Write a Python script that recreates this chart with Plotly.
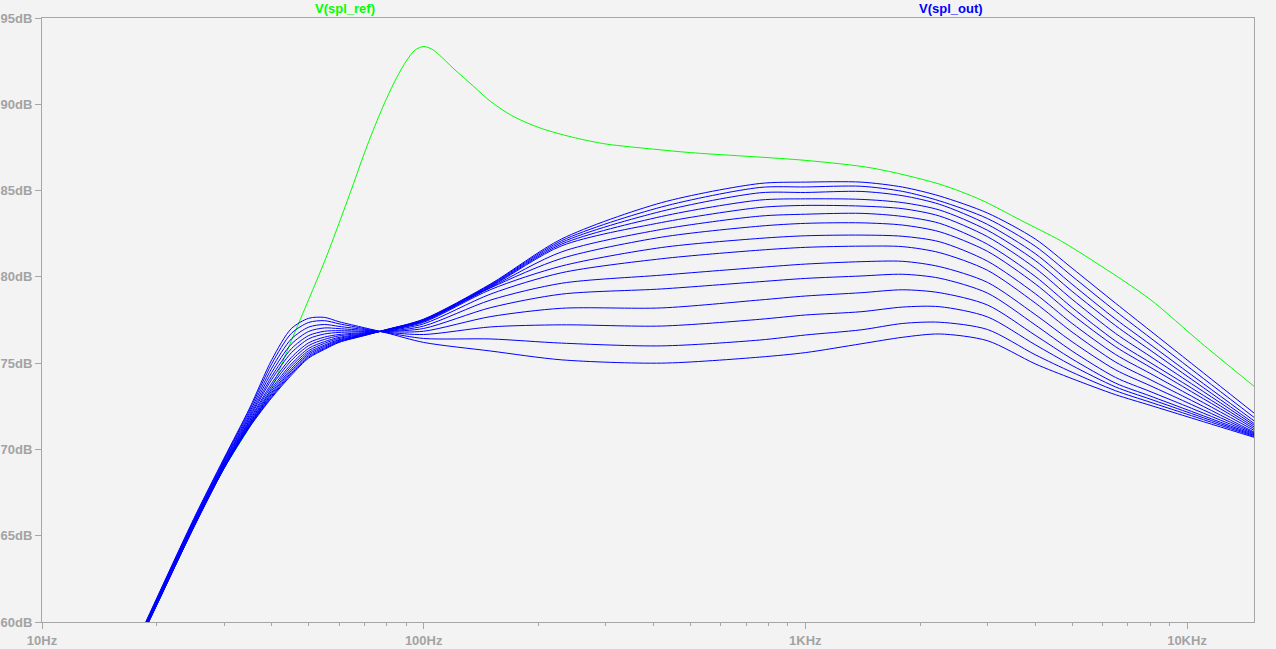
import plotly.graph_objects as go

# Frequencies (Hz) at which the V(spl_out) family was read
freq_out = [18, 20, 25, 30, 35, 40, 45, 50, 55, 60, 70, 80, 100, 150, 230, 420,
            760, 1000, 1400, 1800, 2250, 3000, 4000, 5000, 6500, 8000, 10000, 15000]

# V(spl_out) parameter-sweep curves (dB), top-at-midband first
out_01 = [58.9,61.0,65.5,68.9,71.3,73.0,74.3,75.3,75.8,76.2,76.6,76.95,77.55,79.6,82.2,84.3,85.41,85.49,85.49,85.2,84.68,83.7,82.2,80.5,78.47,76.89,75.19,72.1]
out_02 = [58.9,61.01,65.51,68.92,71.33,73.06,74.38,75.36,75.85,76.23,76.61,76.94,77.53,79.56,82.1,84.05,85.18,85.21,85.25,84.95,84.40,83.38,81.78,80.04,78.01,76.48,74.84,71.85]
out_03 = [58.9,61.02,65.53,68.94,71.37,73.13,74.46,75.44,75.91,76.27,76.63,76.94,77.51,79.52,82.0,83.8,84.87,84.89,84.95,84.7,84.20,83.04,81.35,79.57,77.55,76.09,74.51,71.65]
out_04 = [58.9,61.04,65.55,68.96,71.41,73.22,74.56,75.53,75.98,76.32,76.64,76.93,77.49,79.48,81.9,83.5,84.45,84.52,84.49,84.3,83.87,82.7,80.95,79.16,77.17,75.76,74.25,71.5]
out_05 = [58.95,61.05,65.57,68.98,71.45,73.3,74.67,75.62,76.05,76.36,76.66,76.92,77.47,79.44,81.8,83.15,84.02,84.14,84.1,83.95,83.52,82.33,80.51,78.7,76.72,75.4,73.98,71.4]
out_06 = [58.96,61.08,65.59,69.01,71.51,73.41,74.81,75.73,76.15,76.43,76.68,76.91,77.44,79.4,81.45,82.75,83.52,83.63,83.68,83.5,83.10,81.89,80.03,78.22,76.28,75.04,73.72,71.3]
out_07 = [58.97,61.1,65.62,69.05,71.57,73.53,74.95,75.86,76.25,76.49,76.71,76.9,77.42,79.37,81.07,82.3,82.94,83.10,83.13,83.0,82.61,81.48,79.6,77.82,75.95,74.77,73.5,71.2]
out_08 = [58.99,61.13,65.66,69.09,71.65,73.69,75.15,76.02,76.38,76.58,76.74,76.89,77.37,79.27,80.63,81.7,82.23,82.38,82.42,82.35,82.03,80.91,79.03,77.3,75.5,74.41,73.23,71.1]
out_09 = [59.01,61.15,65.69,69.13,71.72,73.84,75.33,76.18,76.51,76.66,76.77,76.87,77.28,79.01,80.24,81.05,81.55,81.71,81.78,81.75,81.40,80.38,78.49,76.8,75.06,74.05,72.97,71.0]
out_10 = [59.04,61.19,65.74,69.19,71.83,74.06,75.6,76.41,76.69,76.78,76.82,76.85,77.15,78.66,79.63,80.1,80.55,80.74,80.88,80.9,80.59,79.68,77.82,76.24,74.61,73.7,72.72,70.95]
out_11 = [59.07,61.23,65.78,69.24,71.92,74.24,75.83,76.6,76.85,76.88,76.85,76.84,77.01,78.22,79.0,79.3,79.72,79.91,80.05,80.15,79.92,79.06,77.22,75.7,74.17,73.36,72.49,70.9]
out_12 = [59.1,61.27,65.83,69.3,72.03,74.47,76.1,76.84,77.04,77.0,76.9,76.82,76.85,77.7,78.18,78.2,78.66,78.89,79.08,79.25,79.08,78.37,76.62,75.24,73.84,73.1,72.3,70.85]
out_13 = [59.13,61.31,65.89,69.37,72.16,74.71,76.4,77.09,77.24,77.13,76.95,76.79,76.66,77.1,77.22,77.15,77.54,77.79,77.98,78.25,78.27,77.68,76.07,74.86,73.62,72.92,72.17,70.8]
out_14 = [59.17,61.36,65.95,69.44,72.29,74.97,76.72,77.36,77.46,77.28,77.0,76.77,76.43,76.4,76.16,76.0,76.34,76.63,76.93,77.3,77.37,76.95,75.49,74.47,73.4,72.74,72.04,70.75]
out_15 = [59.2,61.4,66.0,69.5,72.4,75.2,77.0,77.6,77.65,77.4,77.05,76.75,76.2,75.7,75.19,75.0,75.35,75.61,76.12,76.5,76.69,76.3,74.96,74.1,73.17,72.56,71.9,70.7]

# V(spl_ref)
freq_ref = [18, 20, 25, 30, 35, 40, 45, 50, 55, 60, 65, 70, 75, 80, 85, 90, 95, 100, 105,
            110, 120, 135, 150, 170, 190, 210, 250, 300, 400, 500, 1000, 1500, 2250, 2900,
            3660, 4660, 5700, 8000, 10850, 15000]
spl_ref = [58.8, 61.0, 65.5, 68.9, 71.3, 73.6, 76.3, 78.7, 80.9, 83.1, 85.2, 87.2, 88.9,
           90.35, 91.55, 92.5, 93.15, 93.35, 93.2, 92.85, 92.05, 91.05, 90.15, 89.35, 88.85,
           88.5, 88.05, 87.7, 87.4, 87.2, 86.75, 86.3, 85.37, 84.44, 83.29, 82.1, 80.9,
           78.7, 76.2, 73.65]

y_ticks = [60, 65, 70, 75, 80, 85, 90, 95]
y_text = ["60dB", "65dB", "70dB", "75dB", "80dB", "85dB", "90dB", "95dB"]
x_ticks = [10, 100, 1000, 10000]
x_text = ["10Hz", "100Hz", "1KHz", "10KHz"]
x_minor = [m * d for d in (10, 100, 1000) for m in range(2, 10)]

trace_labels = ["V(spl_ref)", "V(spl_out)"]
trace_colors = ["#00ff00", "#0000ff"]

out_curves = [out_01, out_02, out_03, out_04, out_05, out_06, out_07, out_08,
              out_09, out_10, out_11, out_12, out_13, out_14, out_15]

fig = go.Figure()
fig.add_trace(go.Scatter(x=freq_ref, y=spl_ref, mode="lines",
                         line=dict(color=trace_colors[0], width=1, shape="spline", smoothing=0.8),
                         name=trace_labels[0], showlegend=False))
for c in out_curves:
    fig.add_trace(go.Scatter(x=freq_out, y=c, mode="lines",
                             line=dict(color=trace_colors[1], width=1, shape="spline", smoothing=0.8),
                             name=trace_labels[1], showlegend=False))

axis_col = "#a6a6a6"
tick_font = dict(family="Liberation Sans, Arial, sans-serif", size=13, color="#a3a3a3", weight="bold")

fig.update_xaxes(type="log", range=[1, 4.1755], showgrid=False, zeroline=False, automargin=False,
                 showline=True, mirror=True, linecolor=axis_col, linewidth=1,
                 ticks="outside", ticklen=6, tickcolor=axis_col, tickwidth=1,
                 tickmode="array", tickvals=x_ticks, ticktext=x_text, tickfont=tick_font,
                 minor=dict(tickmode="array", tickvals=x_minor, ticks="outside",
                            ticklen=3, tickcolor=axis_col, showgrid=False))
fig.update_yaxes(range=[60, 95], showgrid=False, zeroline=False, automargin=False,
                 showline=True, mirror=True, linecolor=axis_col, linewidth=1,
                 ticks="outside", ticklen=6, tickcolor=axis_col, tickwidth=1,
                 tickmode="array", tickvals=y_ticks, ticktext=y_text, tickfont=tick_font)

ann_font = dict(family="Liberation Sans, Arial, sans-serif", size=13, weight="bold")
fig.add_annotation(x=0.25, y=1.015, xref="paper", yref="paper", text=trace_labels[0],
                   showarrow=False, xanchor="center", yanchor="middle",
                   font=dict(ann_font, color=trace_colors[0]))
fig.add_annotation(x=0.75, y=1.015, xref="paper", yref="paper", text=trace_labels[1],
                   showarrow=False, xanchor="center", yanchor="middle",
                   font=dict(ann_font, color=trace_colors[1]))

fig.update_layout(width=1276, height=649, margin=dict(l=42, r=22, t=18, b=27),
                  paper_bgcolor="#f3f3f3", plot_bgcolor="#f3f3f3", showlegend=False)

# remove the default page margin so the figure sits at the window's corner
fig.write_html("out.html", config={"displayModeBar": False},
               post_script="document.body.style.margin='0';document.body.style.overflow='hidden';")
